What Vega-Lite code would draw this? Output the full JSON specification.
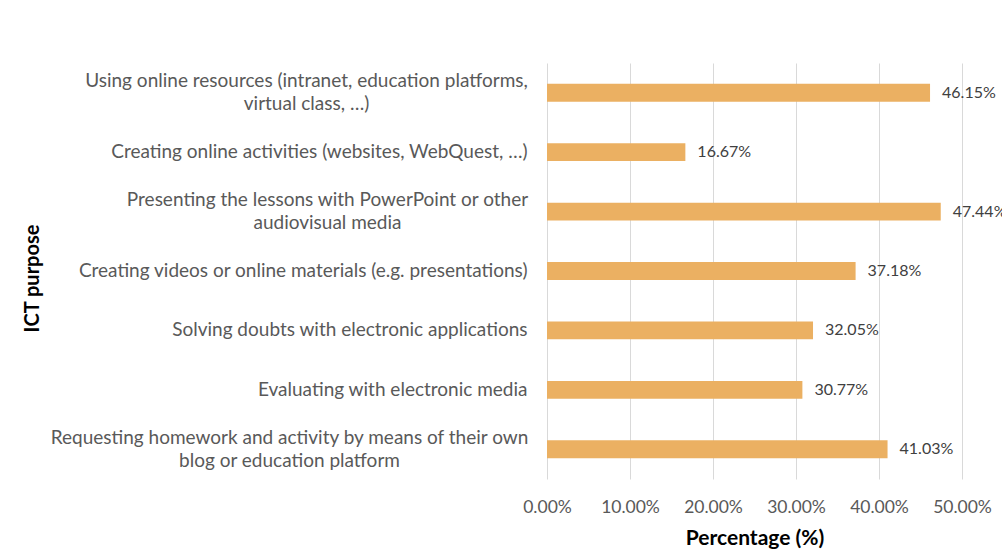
{
  "$schema": "https://vega.github.io/schema/vega-lite/v6.json",
  "width": 415,
  "height": 416,
  "autosize": {"type": "none"},
  "padding": {"left": 547, "top": 63, "right": 40, "bottom": 79},
  "background": "white",
  "config": {"view": {"stroke": null}, "font": "Lato"},
  "data": {
    "values": [
      {"purpose": "Using online resources (intranet, education platforms,|virtual class, …)", "pct": 0.4615},
      {"purpose": "Creating online activities (websites, WebQuest, …)", "pct": 0.1667},
      {"purpose": "Presenting the lessons with PowerPoint or other|audiovisual media", "pct": 0.4744},
      {"purpose": "Creating videos or online materials (e.g. presentations)", "pct": 0.3718},
      {"purpose": "Solving doubts with electronic applications", "pct": 0.3205},
      {"purpose": "Evaluating with electronic media", "pct": 0.3077},
      {"purpose": "Requesting homework and activity by means of their own|blog or education platform", "pct": 0.4103}
    ]
  },
  "encoding": {
    "y": {
      "field": "purpose",
      "type": "nominal",
      "sort": null,
      "scale": {"paddingInner": 0.7, "paddingOuter": 0.35},
      "axis": {
        "title": "ICT purpose",
        "titleFont": "Lato",
        "titleFontSize": 20,
        "titleFontWeight": "bold",
        "titleColor": "#000000",
        "titleX": -505,
        "titleY": 215,
        "labelExpr": "split(datum.value, '|')",
        "labelLimit": 700,
        "labelFont": "Lato",
        "labelFontSize": 19,
        "labelColor": "#595959",
        "labelLineHeight": 23,
        "labelAlign": {"condition": {"test": "indexof(datum.value,'|')>=0", "value": "center"}, "value": "right"},
        "labelOffset": {"condition": {"test": "indexof(datum.value,'|')>=0", "value": -11.5}, "value": 0},
        "labelPadding": {
          "condition": [
            {"test": "indexof(datum.value,'Using')==0", "value": 241},
            {"test": "indexof(datum.value,'Presenting')==0", "value": 220},
            {"test": "indexof(datum.value,'Requesting')==0", "value": 258}
          ],
          "value": 20
        },
        "ticks": false,
        "domain": false,
        "grid": false
      }
    },
    "x": {
      "field": "pct",
      "type": "quantitative",
      "scale": {"domain": [0, 0.5]},
      "axis": {
        "values": [0, 0.1, 0.2, 0.3, 0.4, 0.5],
        "format": ".2%",
        "labelOverlap": false,
        "labelFlush": false,
        "grid": true,
        "gridColor": "#D9D9D9",
        "gridWidth": 1,
        "domain": false,
        "ticks": false,
        "labelFont": "Lato",
        "labelFontSize": 17.5,
        "labelColor": "#595959",
        "labelPadding": 19,
        "title": "Percentage (%)",
        "titleFont": "Lato",
        "titleFontSize": 21,
        "titleFontWeight": "bold",
        "titleColor": "#000000",
        "titlePadding": 12
      }
    }
  },
  "layer": [
    {"mark": {"type": "bar", "color": "#EBB062"}},
    {
      "mark": {"type": "text", "align": "left", "dx": 12, "font": "Lato", "fontSize": 16, "color": "#404040"},
      "encoding": {"text": {"field": "pct", "type": "quantitative", "format": ".2%"}}
    }
  ]
}
